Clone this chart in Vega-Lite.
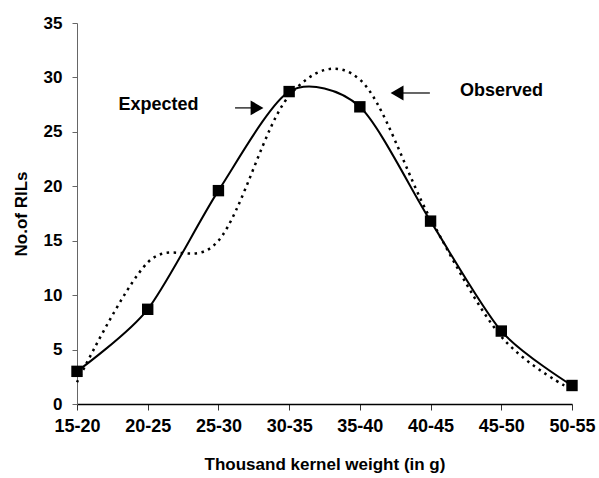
{
  "$schema": "https://vega.github.io/schema/vega-lite/v6.json",
  "width": 495,
  "height": 381,
  "autosize": {"type": "none"},
  "padding": {"left": 77, "top": 23, "right": 27, "bottom": 74},
  "background": "white",
  "config": {"view": {"stroke": null}, "font": "Liberation Sans"},
  "datasets": {
    "series": [
      {"weight": "15-20", "idx": 0, "series": "Expected", "rils": 3.0},
      {"weight": "20-25", "idx": 1, "series": "Expected", "rils": 8.7},
      {"weight": "25-30", "idx": 2, "series": "Expected", "rils": 19.6},
      {"weight": "30-35", "idx": 3, "series": "Expected", "rils": 28.7},
      {"weight": "35-40", "idx": 4, "series": "Expected", "rils": 27.3},
      {"weight": "40-45", "idx": 5, "series": "Expected", "rils": 16.8},
      {"weight": "45-50", "idx": 6, "series": "Expected", "rils": 6.7},
      {"weight": "50-55", "idx": 7, "series": "Expected", "rils": 1.7},
      {"weight": "15-20", "idx": 0, "series": "Observed", "rils": 2.0},
      {"weight": "20-25", "idx": 1, "series": "Observed", "rils": 13.0},
      {"weight": "25-30", "idx": 2, "series": "Observed", "rils": 15.0},
      {"weight": "30-35", "idx": 3, "series": "Observed", "rils": 28.3},
      {"weight": "35-40", "idx": 4, "series": "Observed", "rils": 29.8},
      {"weight": "40-45", "idx": 5, "series": "Observed", "rils": 17.0},
      {"weight": "45-50", "idx": 6, "series": "Observed", "rils": 6.2},
      {"weight": "50-55", "idx": 7, "series": "Observed", "rils": 1.3}
    ],
    "labels": [
      {"label": "Expected", "idx": 1.153, "rils": 27.0},
      {"label": "Observed", "idx": 6.004, "rils": 28.3}
    ],
    "arrows": [
      {"label": "Expected", "from": 2.235, "to": 2.5, "rils": 27.2},
      {"label": "Observed", "from": 4.99, "to": 4.57, "rils": 28.57}
    ],
    "heads": [
      {"label": "Expected", "idx": 2.546, "rils": 27.2, "shape": "triangle-right"},
      {"label": "Observed", "idx": 4.526, "rils": 28.57, "shape": "triangle-left"}
    ]
  },
  "layer": [
    {
      "data": {"name": "series"},
      "transform": [{"filter": "datum.series == 'Observed'"}],
      "mark": {"type": "line", "interpolate": "cardinal", "strokeDash": [2.5, 4.5], "strokeWidth": 2.5, "color": "black"},
      "encoding": {
        "x": {
          "field": "idx", "type": "quantitative",
          "scale": {"domain": [0, 7], "nice": false, "zero": false},
          "axis": {
            "values": [0, 1, 2, 3, 4, 5, 6, 7],
            "labelExpr": "['15-20','20-25','25-30','30-35','35-40','40-45','45-50','50-55'][datum.value]",
            "grid": false,
            "domainColor": "black",
            "domainWidth": 1.5,
            "tickColor": "#333",
            "tickSize": 6,
            "labelPadding": 7,
            "labelFontSize": 18,
            "labelFontWeight": "bold",
            "labelColor": "black",
            "labelFlush": false,
            "title": "Thousand kernel weight (in g)",
            "titleFontSize": 17,
            "titleFontWeight": "bold",
            "titleColor": "black",
            "titlePadding": 21
          }
        },
        "y": {
          "field": "rils", "type": "quantitative",
          "scale": {"domain": [0, 35], "nice": false},
          "axis": {
            "values": [0, 5, 10, 15, 20, 25, 30, 35],
            "grid": false,
            "domainColor": "#666",
            "tickColor": "#666",
            "tickSize": 5,
            "labelPadding": 10,
            "labelFontSize": 17,
            "labelFontWeight": "bold",
            "labelColor": "black",
            "title": "No.of RILs",
            "titleFontSize": 17,
            "titleFontWeight": "bold",
            "titleColor": "black",
            "titlePadding": 13
          }
        }
      }
    },
    {
      "data": {"name": "series"},
      "transform": [{"filter": "datum.series == 'Expected'"}],
      "mark": {"type": "line", "interpolate": "cardinal", "tension": 0.2, "strokeWidth": 2, "color": "black"},
      "encoding": {
        "x": {"field": "idx", "type": "quantitative"},
        "y": {"field": "rils", "type": "quantitative"}
      }
    },
    {
      "data": {"name": "series"},
      "transform": [{"filter": "datum.series == 'Expected'"}],
      "mark": {"type": "point", "shape": "square", "filled": true, "size": 130, "color": "black", "opacity": 1},
      "encoding": {
        "x": {"field": "idx", "type": "quantitative"},
        "y": {"field": "rils", "type": "quantitative"}
      }
    },
    {
      "data": {"name": "labels"},
      "mark": {"type": "text", "fontSize": 18, "fontWeight": "bold", "align": "center", "baseline": "alphabetic", "color": "black"},
      "encoding": {
        "x": {"field": "idx", "type": "quantitative"},
        "y": {"field": "rils", "type": "quantitative"},
        "text": {"field": "label"}
      }
    },
    {
      "data": {"name": "arrows"},
      "mark": {"type": "rule", "strokeWidth": 1.2, "color": "black"},
      "encoding": {
        "x": {"field": "from", "type": "quantitative"},
        "x2": {"field": "to"},
        "y": {"field": "rils", "type": "quantitative"}
      }
    },
    {
      "data": {"name": "heads"},
      "mark": {"type": "point", "filled": true, "size": 220, "color": "black", "opacity": 1},
      "encoding": {
        "x": {"field": "idx", "type": "quantitative"},
        "y": {"field": "rils", "type": "quantitative"},
        "shape": {"field": "shape", "type": "nominal", "scale": null, "legend": null}
      }
    }
  ]
}
